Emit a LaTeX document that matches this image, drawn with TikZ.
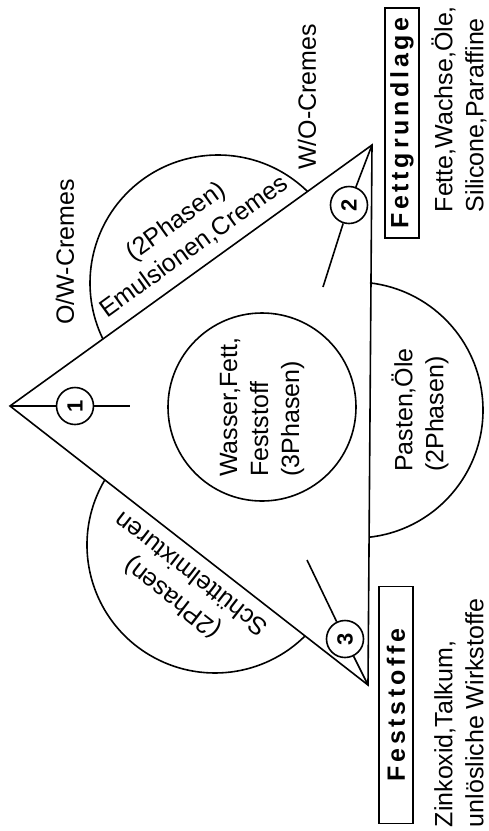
\documentclass[tikz,border=0pt]{standalone}
\usepackage{fontspec}
\setmainfont{Liberation Sans}
\newfontfamily\boxfont[LetterSpace=15]{Liberation Sans}
\usepackage{tikz}

\begin{document}
\begin{tikzpicture}[x=1pt, y=1pt, line width=1.6pt,
  every node/.style={font=\fontsize{25}{31}\selectfont},
  lbl/.style={rotate=90, align=left, inner sep=0pt},
  numcirc/.style={draw, circle, minimum size=37pt, inner sep=0pt, rotate=90, font=\fontsize{22}{22}\selectfont\bfseries},
  basebox/.style={draw, rotate=90, minimum height=34pt, inner sep=0pt, font=\fontsize{25}{25}\selectfont\boxfont\bfseries}]
  \useasboundingbox (0,0) rectangle (488,-831);
  % Triangle
  \coordinate (apex) at (10,-406);
  \coordinate (tr) at (372,-145);
  \coordinate (br) at (368,-685);
  \draw[line join=miter] (apex) -- (tr) -- (br) -- cycle;
  % Half circles on the sides
  \draw (218,-283) ++(45.6:128) arc[start angle=45.6, end angle=205.9, radius=128];
  \draw (215,-545) ++(149.4:128) arc[start angle=149.4, end angle=314.7, radius=128];
  \draw (355,-410) ++(-83.3:128) arc[start angle=-83.3, end angle=83.3, radius=128];
  % Centre and sides
  \node[draw, circle, minimum size=188pt, inner sep=0pt, rotate=90, align=left] (mix) at (262,-407) {Wasser,Fett,\\Feststoff\\(3Phasen)};
  \node[lbl] (paste) at (420,-410) {Pasten,Öle\\(2Phasen)};
  \node[rotate=35.8, align=center, inner sep=0pt] (emul) at (185,-234) {(2Phasen)\\Emulsionen,Cremes};
  \node[rotate=142.1, align=center, inner sep=0pt] (schuett) at (181,-587) {(2Phasen)\\Schüttelmixturen};
  \node[lbl] (ow) at (65,-252) {O/W-Cremes};
  \node[lbl] (wo) at (307,-97) {W/O-Cremes};
  % Corners
  \node[basebox, minimum width=230pt] (fett) at (402,-123) {Fettgrundlage};
  \node[basebox, minimum width=237pt] (fest) at (396,-705) {Feststoffe};
  \node[lbl, anchor=west] (fettlist) at (459,-213) {Fette,Wachse,Öle,\\Silicone,Paraffine};
  \node[lbl, anchor=west] (festlist) at (459,-828) {Zinkoxid,Talkum,\\unlösliche Wirkstoffe};
  % Numbers
  \node[numcirc] (n1) at (75,-406) {1};
  \node[numcirc] (n2) at (349,-205) {2};
  \node[numcirc] (n3) at (345,-639) {3};
  \coordinate (p1) at (130,-406);
  \coordinate (p2) at (323,-287);
  \coordinate (p3) at (307,-560);
  \draw (apex) -- (n1);
  \draw (n1) -- (p1);
  \draw (tr) -- (n2);
  \draw (n2) -- (p2);
  \draw (br) -- (n3);
  \draw (n3) -- (p3);
\end{tikzpicture}
\end{document}
